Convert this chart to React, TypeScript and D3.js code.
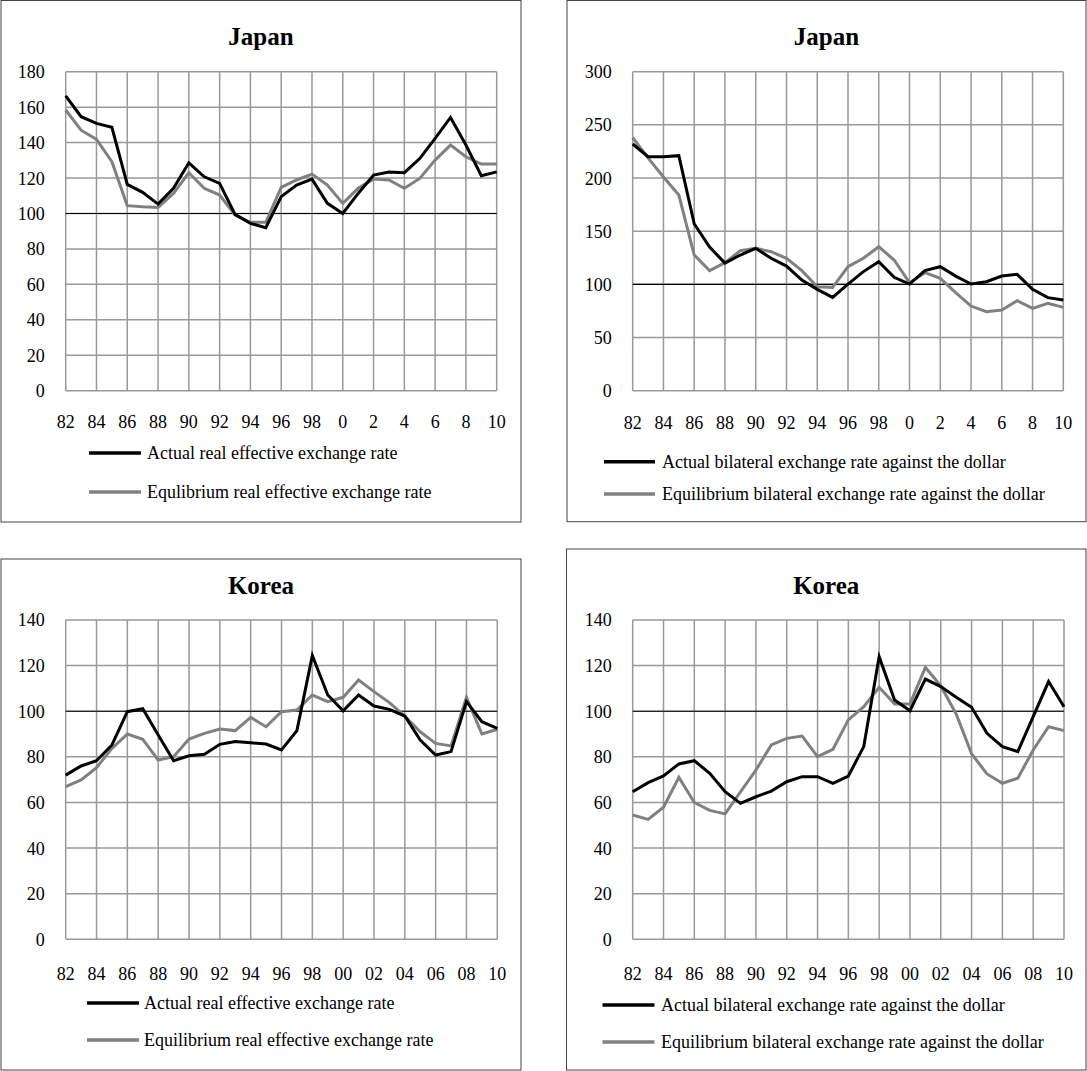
import React from "react";
import * as d3 from "d3";

const years = [1982,1983,1984,1985,1986,1987,1988,1989,1990,1991,1992,1993,1994,1995,1996,1997,1998,1999,2000,2001,2002,2003,2004,2005,2006,2007,2008,2009,2010];

const tickLabelsTop = ["82","84","86","88","90","92","94","96","98","0","2","4","6","8","10"];
const tickLabelsBottom = ["82","84","86","88","90","92","94","96","98","00","02","04","06","08","10"];

const japanREERActual = [166.3,154.6,150.8,148.6,116.4,111.9,105.3,114.2,128.6,120.7,117,99.5,94.4,92,109.5,116,119.4,105.7,100,111.3,121.7,123.4,123,131,142.4,154.2,138.6,121.3,123.5];
const japanREEREquil = [158.4,147,141.8,129.2,104.4,103.8,103.4,111.3,123,114.2,110.4,99.1,95,95,114.7,118.9,122.2,116,105.7,114.2,119.4,118.9,114.2,119.8,130.1,138.6,132,127.9,127.9];

const japanBilActual = [232,220,220,221,157,135,120,127.6,133.9,124.5,117.2,104,95.3,87.8,100.3,112,121.3,106.6,100.3,112.9,116.6,107.8,100.3,102.5,107.8,109.4,95.3,87.5,85.3];
const japanBilEquil = [238,219,201,184,127.6,112.9,120.4,131.7,133.9,130.7,124.5,112.9,97.8,97.2,116.6,124.5,135.4,122.9,101.6,111,105.6,92.2,79.6,74.3,75.9,84.6,77.4,82.1,78.4];

const koreaREERActual = [72,76,78.3,85.2,99.8,101.1,89.6,78.3,80.5,81.1,85.5,86.7,86.2,85.6,83,91.5,124.4,107.1,100.2,107.1,102.3,100.8,97.9,87.4,80.8,82.3,104.2,95.4,92.5];
const koreaREEREquil = [66.9,69.9,75.3,83.7,90,87.7,78.6,80.1,87.8,90.3,92.2,91.5,97.3,93.2,99.8,100.5,107.1,104.2,106.1,113.7,108.6,103.8,97.9,91,85.9,84.8,106.1,90,92.1];

const koreaBilActual = [64.7,68.7,71.6,76.9,78.3,72.8,64.7,59.6,62.5,65,69.1,71.3,71.3,68.4,71.6,84.5,123.9,104.9,100.2,114.1,110.8,106.1,101.7,90.3,84.5,82.3,97.6,113,102];
const koreaBilEquil = [54.5,52.6,57.9,71,60,56.5,55,64.7,74.2,85.2,88.1,89.1,80.1,83.3,96.2,102,110.5,103.2,103.2,119.2,111.1,98.8,81.3,72.5,68.4,70.6,83,93.2,91.5];

const legendREER = ["Actual real effective exchange rate", "Equlibrium real effective exchange rate"];
const legendREER2 = ["Actual real effective exchange rate", "Equilibrium real effective exchange rate"];
const legendBil = ["Actual bilateral exchange rate against the dollar", "Equilibrium bilateral exchange rate against the dollar"];

const FONT = "'Liberation Serif', 'Times New Roman', serif";

type PanelProps = {
  frame: [number, number, number, number];
  plot: { l: number; r: number; t: number; b: number };
  yMax: number;
  yStep: number;
  title: string;
  titleY: number;
  xLabels: string[];
  xLabelY: number;
  legend: string[];
  legLine: [number, number];
  legTextX: number;
  legY: [number, number];
  actual: number[];
  equil: number[];
};

function Panel(p: PanelProps) {
  const x = d3.scalePoint<number>().domain(years).range([p.plot.l, p.plot.r]);
  const y = d3.scaleLinear().domain([0, p.yMax]).range([p.plot.b, p.plot.t]);
  const yTicks = d3.range(0, p.yMax + 0.001, p.yStep);
  const xTickYears = years.filter((_, i) => i % 2 === 0);
  const line = d3
    .line<number>()
    .x((_, i) => x(years[i]) as number)
    .y((d) => y(d));
  const [fx, fy, fw, fh] = p.frame;
  return (
    <g>
      <rect x={fx} y={fy} width={fw} height={fh} fill="#fff" stroke="#444" strokeWidth={1} />
      <text x={fx + fw / 2} y={p.titleY} textAnchor="middle" fontFamily={FONT} fontWeight="bold" fontSize={25}>
        {p.title}
      </text>
      {yTicks.map((t) => (
        <line key={"h" + t} x1={p.plot.l} x2={p.plot.r} y1={y(t)} y2={y(t)} stroke="#999" strokeWidth={1.5} />
      ))}
      {xTickYears.map((yr) => (
        <line key={"v" + yr} x1={x(yr)} x2={x(yr)} y1={p.plot.t} y2={p.plot.b} stroke="#999" strokeWidth={1.5} />
      ))}
      <line x1={p.plot.l} x2={p.plot.r} y1={y(100)} y2={y(100)} stroke="#000" strokeWidth={1.2} />
      {yTicks.map((t) => (
        <text key={"yl" + t} x={p.plot.l - 21} y={y(t)} dy="0.36em" textAnchor="end" fontFamily={FONT} fontSize={18}>
          {t}
        </text>
      ))}
      {xTickYears.map((yr, i) => (
        <text key={"xl" + yr} x={x(yr)} y={p.xLabelY} dy="0.36em" textAnchor="middle" fontFamily={FONT} fontSize={18}>
          {p.xLabels[i]}
        </text>
      ))}
      <path d={line(p.equil) || ""} fill="none" stroke="#808080" strokeWidth={3} strokeLinejoin="miter" />
      <path d={line(p.actual) || ""} fill="none" stroke="#000" strokeWidth={3} strokeLinejoin="miter" />
      <line x1={p.legLine[0]} x2={p.legLine[1]} y1={p.legY[0]} y2={p.legY[0]} stroke="#000" strokeWidth={3.5} />
      <text x={p.legTextX} y={p.legY[0]} dy="0.33em" fontFamily={FONT} fontSize={18}>
        {p.legend[0]}
      </text>
      <line x1={p.legLine[0]} x2={p.legLine[1]} y1={p.legY[1]} y2={p.legY[1]} stroke="#808080" strokeWidth={3.5} />
      <text x={p.legTextX} y={p.legY[1]} dy="0.33em" fontFamily={FONT} fontSize={18}>
        {p.legend[1]}
      </text>
    </g>
  );
}

export default function App() {
  return (
    <svg width={1087} height={1071} style={{ position: "absolute", left: 0, top: 0, background: "#fff" }}>
      <Panel
        frame={[1, 0.5, 520, 521.5]}
        plot={{ l: 65.7, r: 496.7, t: 71.7, b: 390.7 }}
        yMax={180}
        yStep={20}
        title="Japan"
        titleY={45}
        xLabels={tickLabelsTop}
        xLabelY={422}
        legend={legendREER}
        legLine={[89, 141]}
        legTextX={147}
        legY={[453, 492]}
        actual={japanREERActual}
        equil={japanREEREquil}
      />
      <Panel
        frame={[567, 0.5, 519, 521.2]}
        plot={{ l: 632.7, r: 1063.3, t: 71.7, b: 390.7 }}
        yMax={300}
        yStep={50}
        title="Japan"
        titleY={45}
        xLabels={tickLabelsTop}
        xLabelY={423}
        legend={legendBil}
        legLine={[604, 655]}
        legTextX={662}
        legY={[461.7, 494]}
        actual={japanBilActual}
        equil={japanBilEquil}
      />
      <Panel
        frame={[1, 559, 520, 511]}
        plot={{ l: 65.7, r: 497.3, t: 620, b: 939.3 }}
        yMax={140}
        yStep={20}
        title="Korea"
        titleY={594}
        xLabels={tickLabelsBottom}
        xLabelY={974}
        legend={legendREER2}
        legLine={[87, 139]}
        legTextX={144}
        legY={[1003, 1040]}
        actual={koreaREERActual}
        equil={koreaREEREquil}
      />
      <Panel
        frame={[566.5, 549, 519.5, 521]}
        plot={{ l: 632.7, r: 1064, t: 620, b: 939.3 }}
        yMax={140}
        yStep={20}
        title="Korea"
        titleY={594}
        xLabels={tickLabelsBottom}
        xLabelY={974}
        legend={legendBil}
        legLine={[602.5, 654.5]}
        legTextX={661}
        legY={[1005, 1042]}
        actual={koreaBilActual}
        equil={koreaBilEquil}
      />
    </svg>
  );
}
